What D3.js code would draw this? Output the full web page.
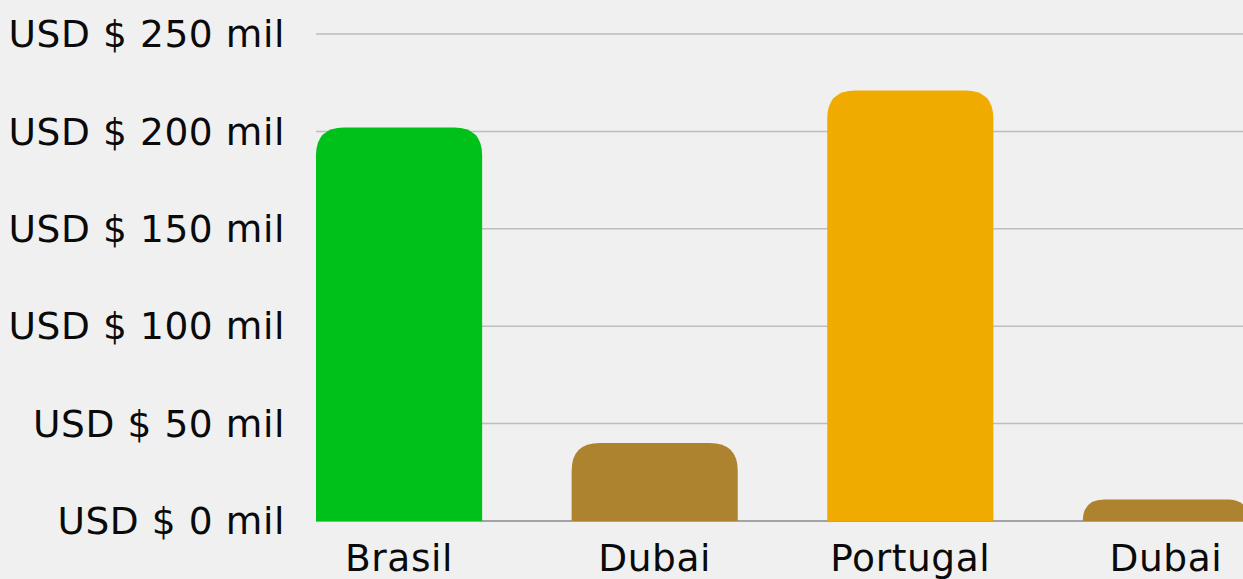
<!DOCTYPE html>
<html>
<head>
<meta charset="utf-8">
<script src="https://cdn.jsdelivr.net/npm/d3@7"></script>
<style>
	html, body { margin: 0; padding: 0; background: #f0f0f0; }
	svg { display: block; }
	text { font-family: "DejaVu Sans", "Noto Sans", sans-serif; fill: #0a0a0a; letter-spacing: 0.6px; }
</style>
</head>
<body>
<svg width="1243" height="579"></svg>
<script>
const categories = ["Brasil", "Dubai", "Portugal", "Dubai"];
const values = [202, 40, 221, 11];
const colors = ["#00c11a", "#ad832f", "#f0ab00", "#ad832f"];
const tickValues = [0, 50, 100, 150, 200, 250];

const svg = d3.select("svg");
const width = 1243;

// plot area, last band runs past the right edge like the original
const left = 316;
const baseY = 521;
const topY = 34;

const x = d3.scaleBand()
	.domain(d3.range(categories.length))
	.range([left, 1249])
	.paddingInner(0.35)
	.paddingOuter(0);

const y = d3.scaleLinear()
	.domain([0, 250])
	.range([baseY, topY]);

//gridlines
svg.append("g")
	.selectAll("line")
	.data(tickValues.filter(d => d > 0))
	.enter().append("line")
	.attr("x1", left)
	.attr("x2", width)
	.attr("y1", d => y(d))
	.attr("y2", d => y(d))
	.attr("stroke", "#bdbdbd")
	.attr("stroke-width", 1.5);

svg.append("line")
	.attr("x1", left)
	.attr("x2", width)
	.attr("y1", y(0))
	.attr("y2", y(0))
	.attr("stroke", "#8a8a8a")
	.attr("stroke-width", 1.5);

//y tick labels
svg.append("g")
	.selectAll("text")
	.data(tickValues)
	.enter().append("text")
	.attr("x", 285)
	.attr("y", d => y(d))
	.attr("dy", "0.35em")
	.attr("text-anchor", "end")
	.style("font-size", "37.5px")
	.text(d => `USD $ ${d} mil`);

function topRounded(x0, y0, w, h, r) {
	r = Math.min(r, h, w / 2);
	return `M${x0},${y0 + h}` +
		`V${y0 + r}` +
		`Q${x0},${y0} ${x0 + r},${y0}` +
		`H${x0 + w - r}` +
		`Q${x0 + w},${y0} ${x0 + w},${y0 + r}` +
		`V${y0 + h}Z`;
}

//bars
svg.append("g")
	.selectAll("path")
	.data(values)
	.enter().append("path")
	.attr("fill", (d, i) => colors[i])
	.attr("d", (d, i) => topRounded(x(i), y(d), x.bandwidth(), baseY - y(d), 28));

//category labels
svg.append("g")
	.selectAll("text")
	.data(categories)
	.enter().append("text")
	.attr("x", (d, i) => x(i) + x.bandwidth() / 2)
	.attr("y", 571)
	.attr("text-anchor", "middle")
	.style("font-size", "37.5px")
	.text(d => d);
</script>
</body>
</html>
